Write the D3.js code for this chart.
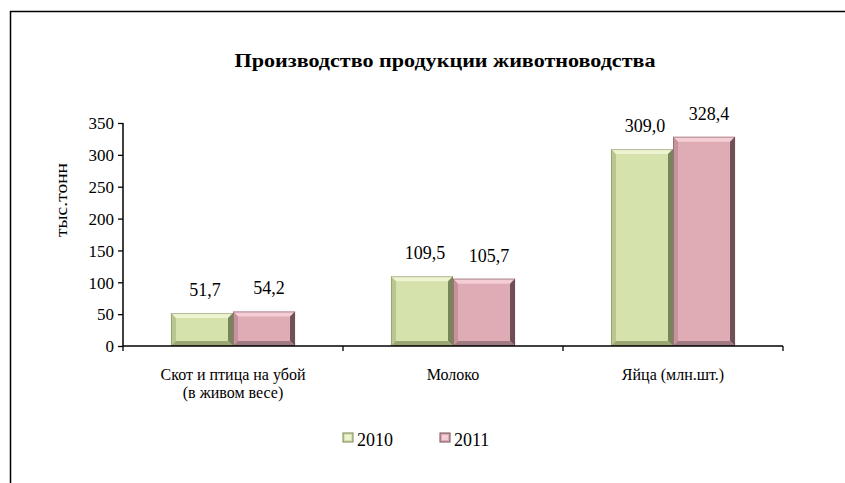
<!DOCTYPE html>
<html><head><meta charset="utf-8">
<script src="https://cdn.jsdelivr.net/npm/d3@7"></script>
</head><body style="margin:0;background:#fff"><svg id="c" width="845" height="483" style="display:block"></svg>
<script>
const categories = [["Скот и птица на убой","(в живом весе)"],["Молоко"],["Яйца (млн.шт.)"]];
const seriesNames = ["2010","2011"];
const values2010 = [51.7,109.5,309.0];
const values2011 = [54.2,105.7,328.4];
const yTicks = [0,50,100,150,200,250,300,350];
const title = "Производство продукции животноводства";
const yLabel = "тыс.тонн";

const FONT = "Liberation Serif";
const colors = {
  "2010": {main:"#d6e2ab", top:"#eef4d2", left:"#b9c690", right:"#78845a", bottom:"#9aa674"},
  "2011": {main:"#dfabb5", top:"#f4cdd5", left:"#c6939d", right:"#6f5057", bottom:"#a07a82"}
};

const svg = d3.select("#c");
const txt = (sel)=>sel.style("font-family",FONT).style("fill","#000");
svg.append("path").attr("d","M10.5,483 V11.5 H845").attr("fill","none").attr("stroke","#000").attr("stroke-width",1.5);

const x0 = d3.scaleBand().domain(d3.range(categories.length)).range([123,783]).paddingInner(0.436).paddingOuter(0.218);
const x1 = d3.scaleBand().domain(seriesNames).range([0,x0.bandwidth()]);
const y = d3.scaleLinear().domain([0,350]).range([346,123]);

txt(svg.append("text")).attr("x",445).attr("y",67).attr("text-anchor","middle")
  .attr("font-size",18).attr("font-weight","bold").attr("textLength",421).attr("lengthAdjust","spacingAndGlyphs").text(title);

txt(svg.append("text")).attr("transform","translate(67,200) rotate(-90)").attr("text-anchor","middle")
  .style("font-size","17px").attr("textLength",74).attr("lengthAdjust","spacingAndGlyphs").text(yLabel);

const ya = svg.append("g").attr("transform","translate(123,0)")
  .call(d3.axisLeft(y).tickValues(yTicks).tickSize(5).tickPadding(4).tickFormat(d3.format("d")));
ya.select(".domain").attr("stroke","#000").attr("stroke-width",1.5).attr("d","M0,"+y(350)+"V"+y(0));
ya.selectAll(".tick line").attr("stroke","#000").attr("stroke-width",1.3);
txt(ya.selectAll(".tick text")).attr("font-size",17).attr("dy","0.34em");

const data = [];
categories.forEach((c,i)=>{
  data.push({i, s:"2010", v:values2010[i]});
  data.push({i, s:"2011", v:values2011[i]});
});
const b = 5;
const g = svg.append("g");
data.forEach(d=>{
  const x = x0(d.i)+x1(d.s), w = x1.bandwidth(), yt = y(d.v), yb = y(0), h = yb-yt;
  const col = colors[d.s];
  const bb = Math.min(b, h/2);
  g.append("rect").attr("x",x).attr("y",yt).attr("width",w).attr("height",h).attr("fill",col.main);
  const poly = (pts,fill)=>g.append("polygon").attr("points",pts.map(p=>p.join(",")).join(" ")).attr("fill",fill);
  poly([[x,yt],[x+w,yt],[x+w-bb,yt+bb],[x+bb,yt+bb]], col.top);
  poly([[x,yt],[x+bb,yt+bb],[x+bb,yb-bb],[x,yb]], col.left);
  poly([[x+w,yt],[x+w,yb],[x+w-bb,yb-bb],[x+w-bb,yt+bb]], col.right);
  poly([[x,yb],[x+bb,yb-bb],[x+w-bb,yb-bb],[x+w,yb]], col.bottom);
  g.append("rect").attr("x",x+0.5).attr("y",yt+0.5).attr("width",w-1).attr("height",h-1).attr("fill","none").attr("stroke",col.right).attr("stroke-opacity",0.5);
  txt(svg.append("text")).attr("x",x+w/2+(d.s==="2011"?5:3)).attr("y",yt-17).attr("text-anchor","middle")
    .attr("font-size",18).text(d.v.toFixed(1).replace(".",","));
});

const xa = svg.append("g").attr("transform","translate(0,346)");
xa.append("line").attr("x1",123).attr("x2",783).attr("stroke","#000").attr("stroke-width",1.5);
const bounds = d3.range(categories.length+1).map(i=>123+i*x0.step());
xa.selectAll("line.t").data(bounds).join("line").attr("class","t")
  .attr("x1",d=>d).attr("x2",d=>d).attr("y1",0).attr("y2",5).attr("stroke","#000").attr("stroke-width",1.3);
categories.forEach((lines,i)=>{
  const cx = x0(i)+x0.bandwidth()/2;
  const t = txt(svg.append("text")).attr("text-anchor","middle").attr("font-size",16);
  lines.forEach((ln,k)=>t.append("tspan").attr("x",cx).attr("y",380+k*18).text(ln));
});

const leg = [{s:"2010",x:343},{s:"2011",x:440}];
leg.forEach(l=>{
  const c = colors[l.s];
  svg.append("rect").attr("x",l.x).attr("y",433).attr("width",10).attr("height",9).attr("fill",c.main).attr("stroke",c.right).attr("stroke-width",1);
  svg.append("rect").attr("x",l.x+2).attr("y",435).attr("width",6).attr("height",5).attr("fill",c.top);
  txt(svg.append("text")).attr("x",l.x+14).attr("y",446).attr("font-size",18).text(l.s);
});
</script></body></html>
